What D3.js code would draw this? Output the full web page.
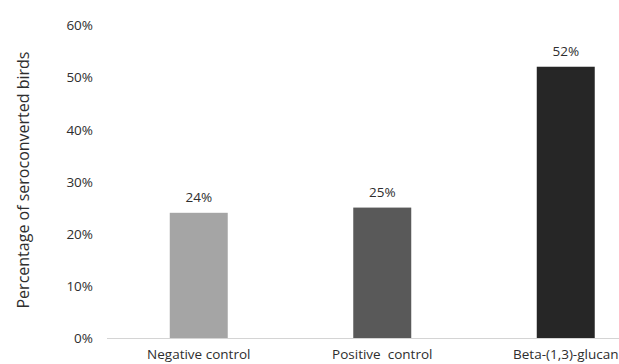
<!DOCTYPE html>
<html>
<head>
<meta charset="utf-8">
<script src="https://cdn.jsdelivr.net/npm/d3@7"></script>
<style>
  html, body { margin: 0; padding: 0; background: #fff; }
  svg text { font-family: "Open Sans", "DejaVu Sans", sans-serif; fill: #2e2e2e; }
</style>
</head>
<body>
<svg id="chart" width="619" height="364"></svg>
<script>
// Seroconversion by treatment group
const categories = ["Negative control", "Positive  control", "Beta-(1,3)-glucan"];
const values = [24, 25, 52];
const barColors = ["#a5a5a5", "#595959", "#262626"];
const yTicks = [0, 10, 20, 30, 40, 50, 60];

const svg = d3.select("#chart");

const x = d3.scaleBand()
  .domain(categories)
  .range([107, 657.5])
  .paddingInner(0.684)
  .paddingOuter(0.342);

const y = d3.scaleLinear()
  .domain([0, 60])
  .range([338, 25]);

// y tick labels (no axis line, no tick marks)
const yAxis = d3.axisLeft(y)
  .tickValues(yTicks)
  .tickFormat(d => d + "%")
  .tickSize(0)
  .tickPadding(0);

const gy = svg.append("g")
  .attr("transform", "translate(93,0)")
  .call(yAxis);
gy.select(".domain").remove();
gy.selectAll("text")
  .attr("font-size", 13.5)
  .attr("dy", "0.35em")
  .style("font-family", null);

// bars
svg.append("g")
  .selectAll("rect")
  .data(values)
  .join("rect")
  .attr("x", (d, i) => x(categories[i]))
  .attr("width", x.bandwidth())
  .attr("y", d => y(d))
  .attr("height", d => y(0) - y(d))
  .attr("fill", (d, i) => barColors[i]);

// baseline
svg.append("line")
  .attr("x1", 107).attr("x2", 619)
  .attr("y1", y(0) + 0.5).attr("y2", y(0) + 0.5)
  .attr("stroke", "#d4d4d4")
  .attr("stroke-width", 1.2);

// value labels
svg.append("g")
  .selectAll("text")
  .data(values)
  .join("text")
  .attr("x", (d, i) => x(categories[i]) + x.bandwidth() / 2)
  .attr("y", d => y(d) - 11)
  .attr("text-anchor", "middle")
  .attr("font-size", 13.5)
  .text(d => d + "%");

// category labels
const xAxis = d3.axisBottom(x).tickSize(0).tickPadding(0);
const gx = svg.append("g")
  .attr("transform", "translate(0,359)")
  .call(xAxis);
gx.select(".domain").remove();
gx.selectAll("text")
  .attr("font-size", 13.5)
  .attr("y", 0)
  .attr("dy", 0)
  .style("white-space", "pre")
  .attr("xml:space", "preserve");

// y axis title
svg.append("text")
  .attr("transform", "translate(29,180) rotate(-90)")
  .attr("text-anchor", "middle")
  .attr("font-size", 16)
  .text("Percentage of seroconverted birds");
</script>
</body>
</html>
